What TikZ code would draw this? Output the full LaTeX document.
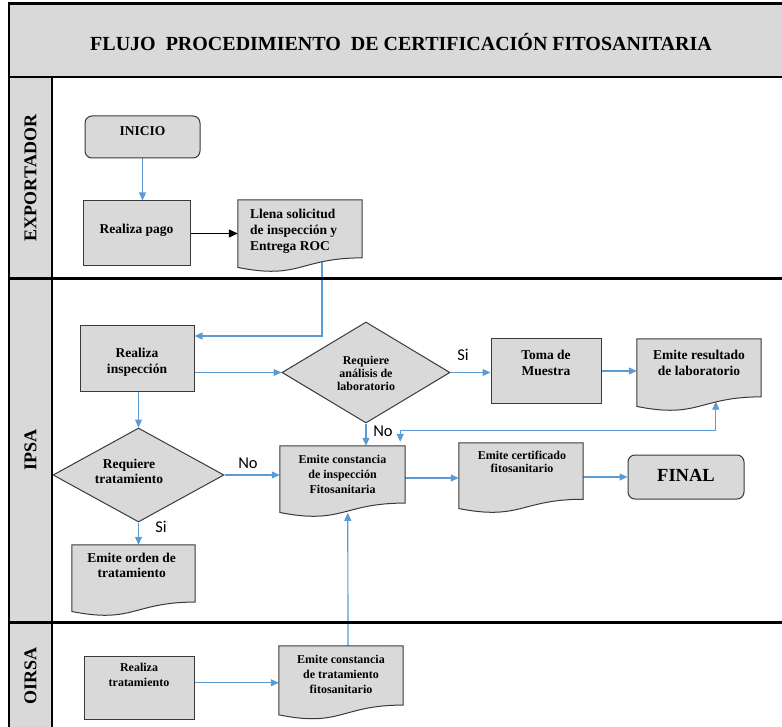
\documentclass[tikz,border=0pt]{standalone}
\usepackage{fontspec}
\setmainfont{Liberation Serif}
\newfontfamily\calib{Carlito}
\usetikzlibrary{arrows.meta,calc,shapes.geometric,backgrounds}
\definecolor{boxgray}{HTML}{D9D9D9}
\definecolor{flowblue}{HTML}{5B9BD5}
\definecolor{edgegray}{HTML}{3A3A3A}
\newcommand{\docshape}[1]{\filldraw[docline] (#1.north west) -- (#1.north east) -- ($(#1.north east)!0.802!(#1.south east)$) .. controls ($(#1.north)!0.802!(#1.south)$) and ($(#1.north)!1.107!(#1.south)$) .. ($(#1.north west)!0.934!(#1.south west)$) -- cycle;}
\begin{document}
\begin{tikzpicture}[x=1pt,y=-1pt,
  shapebox/.style={draw=edgegray, line width=1pt, fill=boxgray, inner sep=0pt},
  procbox/.style={shapebox, rectangle},
  termbox/.style={shapebox, rectangle, rounded corners=7pt},
  decbox/.style={shapebox, diamond},
  docnode/.style={rectangle, draw=none, inner sep=0pt},
  docline/.style={draw=edgegray, line width=1pt, fill=boxgray},
  tbig/.style={font=\bfseries\fontsize{13.5}{16}\selectfont, align=center, inner sep=0pt},
  tmid/.style={font=\bfseries\fontsize{12}{15}\selectfont, align=center, inner sep=0pt},
  tsmall/.style={font=\bfseries\fontsize{12}{13}\selectfont, align=center, inner sep=0pt},
  lanelab/.style={rotate=90, font=\bfseries\fontsize{18}{20}\selectfont, inner sep=0pt},
  branch/.style={font=\calib\fontsize{16.5}{18}\selectfont, inner sep=0pt},
  conn/.style={draw=flowblue, line width=1.2pt, -{Triangle[length=8pt,width=7pt]}},
  conntwo/.style={draw=flowblue, line width=1.2pt, {Triangle[length=8pt,width=7pt]}-{Triangle[length=8pt,width=7pt]}},
  blk/.style={draw=black, line width=1.2pt, -{Triangle[length=9pt,width=8pt]}}
]
\useasboundingbox (0,0) rectangle (782,727);
% frame
\fill[boxgray] (9,4) rectangle (782,77);
\fill[boxgray] (9,77) rectangle (52,727);
\draw[line width=3pt] (8,4) -- (782,4);
\draw[line width=2pt] (9,4) -- (9,727);
\draw[line width=2pt] (9,77) -- (782,77);
\draw[line width=2pt] (52,77) -- (52,727);
\draw[line width=3pt] (9,279) -- (782,279);
\draw[line width=3pt] (9,622) -- (782,622);
\node[font=\bfseries\fontsize{20}{24}\selectfont, inner sep=0pt] (title) at (401,42) {FLUJO\ \ PROCEDIMIENTO\ \ DE CERTIFICACIÓN FITOSANITARIA};
\node[lanelab] (lexp) at (30.5,178) {EXPORTADOR};
\node[lanelab] (lipsa) at (30.5,450) {IPSA};
\node[lanelab] (loirsa) at (30.5,676) {OIRSA};

% shapes
\node[termbox, minimum width=115, minimum height=42] (inicio) at (142.5,137) {};
\node[procbox, minimum width=107, minimum height=65] (pago) at (136.5,233.5) {};
\node[procbox, minimum width=114, minimum height=65] (insp) at (137,358.5) {};
\node[procbox, minimum width=110, minimum height=64] (toma) at (546,371) {};
\node[termbox, minimum width=116, minimum height=44] (final) at (686,477) {};
\node[procbox, minimum width=110, minimum height=63] (trat) at (139,687.5) {};
\node[decbox, minimum width=168, minimum height=101] (diam1) at (366,372.5) {};
\node[decbox, minimum width=171, minimum height=94] (diam2) at (138.5,475) {};

\node[docnode, minimum width=124, minimum height=72] (llena) at (300,236) {};
\node[docnode, minimum width=124, minimum height=72] (res) at (699,375) {};
\node[docnode, minimum width=125, minimum height=71] (const) at (342.5,481.5) {};
\node[docnode, minimum width=124, minimum height=70] (cert) at (521,478) {};
\node[docnode, minimum width=123, minimum height=71] (orden) at (133.5,580.5) {};
\node[docnode, minimum width=124, minimum height=73.5] (consttrat) at (341,682.75) {};
\docshape{llena}
\docshape{res}
\docshape{const}
\docshape{cert}
\docshape{orden}
\docshape{consttrat}

% texts
\node[tbig] (inicio-t) at (142.5,131) {INICIO};
\node[tbig] (pago-t) at (136.5,230) {Realiza pago};
\node[tbig, align=left, anchor=west] (llena-t) at (250,231) {Llena solicitud\\de inspección y\\Entrega ROC};
\node[tbig] (insp-t) at (137,362) {Realiza\\inspección};
\node[tsmall] (diam1-t) at (366,373) {Requiere\\análisis de\\laboratorio};
\node[tbig] (toma-t) at (546,363) {Toma de\\Muestra};
\node[tbig] (res-t) at (699,363) {Emite resultado\\de laboratorio};
\node[tbig, font=\bfseries\fontsize{13.5}{15}\selectfont] (diam2-t) at (129,471.5) {Requiere\\tratamiento};
\node[tmid] (const-t) at (342.5,474) {Emite constancia\\de inspección\\Fitosanitaria};
\node[tsmall] (cert-t) at (522,461.5) {Emite certificado\\fitosanitario};
\node[font=\bfseries\fontsize{18.5}{20}\selectfont, inner sep=0pt] (final-t) at (686,475) {FINAL};
\node[tbig, font=\bfseries\fontsize{13.5}{15}\selectfont] (orden-t) at (131.7,565.5) {Emite orden de\\tratamiento};
\node[tmid] (trat-t) at (139,674.5) {Realiza\\tratamiento};
\node[tmid] (consttrat-t) at (341,674.5) {Emite constancia\\de tratamiento\\fitosanitario};

\node[branch] (si1) at (463,355) {Si};
\node[branch] (no1) at (383,431) {No};
\node[branch] (no2) at (248,463) {No};
\node[branch] (si2) at (161,527) {Si};

% connectors
\begin{scope}[on background layer]
\draw[conn] (inicio.south) -- (inicio.south |- pago.north);
\draw[blk] (pago.east) -- (pago.east -| llena.west);
\draw[conn] ($(llena.center)+(22,0)$) |- ($(insp.east)+(0,-22.5)$);
\draw[conn] (diam1.west -| insp.east) -- (diam1.west);
\draw[conn] (diam1.east) -- (diam1.east -| toma.west);
\draw[conn] (toma.east) -- (toma.east -| res.west);
\draw[conn] (diam1.south) -- (diam1.south |- const.north);
\draw[conntwo] ($(const.north east)+(-5,-4)$) -- ++(0,-11) -| ($(res.north west)+(79,62.7)$);
\draw[conn] (diam2.north |- insp.south) -- (diam2.north);
\draw[conn] (diam2.east) -- (diam2.east -| const.west);
\draw[conn] (cert.west -| const.east) -- (cert.west);
\draw[conn] (final.west -| cert.east) -- (final.west);
\draw[conn] (diam2.south) -- (diam2.south |- orden.north);
\draw[conn] ($(orden.center)+(2.5,0)$) -- ($(orden.center)+(2.5,0)$ |- trat.north);
\draw[conn] (consttrat.west -| trat.east) -- (consttrat.west);
\draw[conn] ($(consttrat.center)+(7,0)$) -- ($(const.north west)+(68,67)$);
\end{scope}
\end{tikzpicture}
\end{document}
